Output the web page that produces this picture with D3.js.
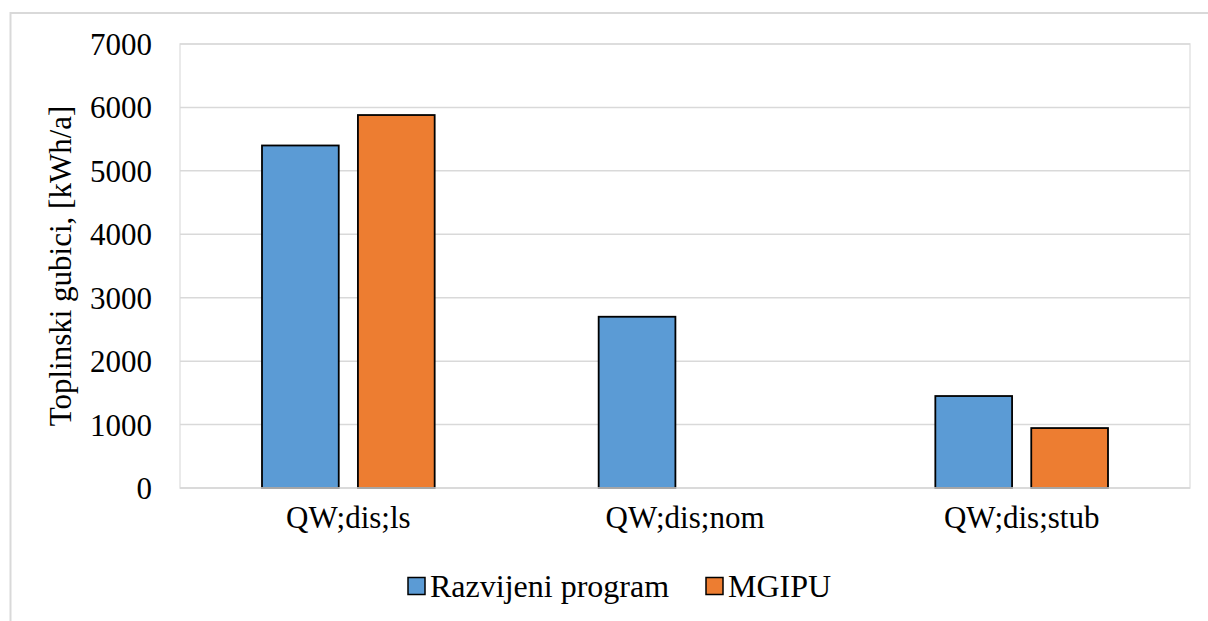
<!DOCTYPE html>
<html>
<head>
<meta charset="utf-8">
<script src="https://cdn.jsdelivr.net/npm/d3@7"></script>
<style>
  html, body { margin: 0; padding: 0; background: #fff; }
  svg { display: block; }
</style>
</head>
<body>
<svg id="chart" width="1208" height="621"></svg>
<script>
// Heat losses per distribution component
const categories = ["QW;dis;ls", "QW;dis;nom", "QW;dis;stub"];
const seriesNames = ["Razvijeni program", "MGIPU"];
const razvijeni = [5400, 2700, 1450];
const mgipu = [5880, null, 945];
const yTicks = [0, 1000, 2000, 3000, 4000, 5000, 6000, 7000];
const colors = ["#5b9bd5", "#ed7d31"];

const FONT = '"Liberation Serif"';
const FS = "31px";

const svg = d3.select("#chart");
const W = 1208, H = 621;

// outer frame
svg.append("rect")
  .attr("x", 10.5).attr("y", 13).attr("width", W + 20).attr("height", H + 20)
  .attr("fill", "#fff").attr("stroke", "#d9d9d9").attr("stroke-width", 2);

const plot = { left: 180, right: 1190, top: 44, bottom: 488 };

const y = d3.scaleLinear().domain([0, 7000]).range([plot.bottom, plot.top]);
const x0 = d3.scaleBand().domain(categories).range([plot.left, plot.right]).paddingInner(0).paddingOuter(0);
const groupInset = 82;
const x1 = d3.scaleBand().domain(seriesNames)
  .range([groupInset, x0.bandwidth() - groupInset]).paddingInner(0.2);

// plot area border
svg.append("rect")
  .attr("x", plot.left).attr("y", plot.top)
  .attr("width", plot.right - plot.left).attr("height", plot.bottom - plot.top)
  .attr("fill", "none").attr("stroke", "#e3e3e3").attr("stroke-width", 1.5);

// gridlines
svg.append("g").selectAll("line").data(yTicks).join("line")
  .attr("x1", plot.left).attr("x2", plot.right)
  .attr("y1", d => y(d)).attr("y2", d => y(d))
  .attr("stroke", "#d9d9d9").attr("stroke-width", 1.5);

// y axis labels
const yAxis = d3.axisLeft(y).tickValues(yTicks).tickSize(0).tickPadding(28).tickFormat(d3.format("d"));
const gy = svg.append("g").attr("transform", `translate(${plot.left},0)`).call(yAxis);
gy.select(".domain").remove();
gy.selectAll("text")
  .style("font-family", FONT).style("font-size", FS)
  .attr("fill", "#000").attr("dy", "0.34em");

// bars
const data = categories.map((c, i) => ({
  cat: c,
  vals: [
    { name: seriesNames[0], v: razvijeni[i], color: colors[0] },
    { name: seriesNames[1], v: mgipu[i], color: colors[1] }
  ]
}));

const groups = svg.append("g").selectAll("g").data(data).join("g")
  .attr("transform", d => `translate(${x0(d.cat)},0)`);

groups.selectAll("rect").data(d => d.vals.filter(v => v.v != null)).join("rect")
  .attr("x", d => x1(d.name))
  .attr("width", x1.bandwidth())
  .attr("y", d => y(d.v))
  .attr("height", d => y(0) - y(d.v))
  .attr("fill", d => d.color)
  .attr("stroke", "#000").attr("stroke-width", 1.8);

// baseline drawn over bar bottoms
svg.append("line")
  .attr("x1", plot.left).attr("x2", plot.right)
  .attr("y1", y(0)).attr("y2", y(0))
  .attr("stroke", "#d9d9d9").attr("stroke-width", 1.5);

// category labels
const xAxis = d3.axisBottom(x0).tickSize(0).tickPadding(18);
const gx = svg.append("g").attr("transform", `translate(0,${plot.bottom})`).call(xAxis);
gx.select(".domain").remove();
gx.selectAll("text")
  .style("font-family", FONT).style("font-size", FS)
  .attr("fill", "#000");

// y axis title
svg.append("text")
  .attr("transform", `translate(71,${(plot.top + plot.bottom) / 2}) rotate(-90)`)
  .attr("text-anchor", "middle")
  .style("font-family", FONT).style("font-size", FS)
  .text("Toplinski gubici, [kWh/a]");

// legend
const legend = svg.append("g").attr("transform", "translate(408,586)");
const legendItems = [
  { name: seriesNames[0], color: colors[0], x: 0 },
  { name: seriesNames[1], color: colors[1], x: 298 }
];
const li = legend.selectAll("g").data(legendItems).join("g")
  .attr("transform", d => `translate(${d.x},0)`);
li.append("rect")
  .attr("x", 0).attr("y", -8.5).attr("width", 17).attr("height", 17)
  .attr("fill", d => d.color).attr("stroke", "#000").attr("stroke-width", 1.5);
li.append("text")
  .attr("x", 22).attr("dy", "0.34em")
  .style("font-family", FONT).style("font-size", "32px")
  .text(d => d.name);
</script>
</body>
</html>
